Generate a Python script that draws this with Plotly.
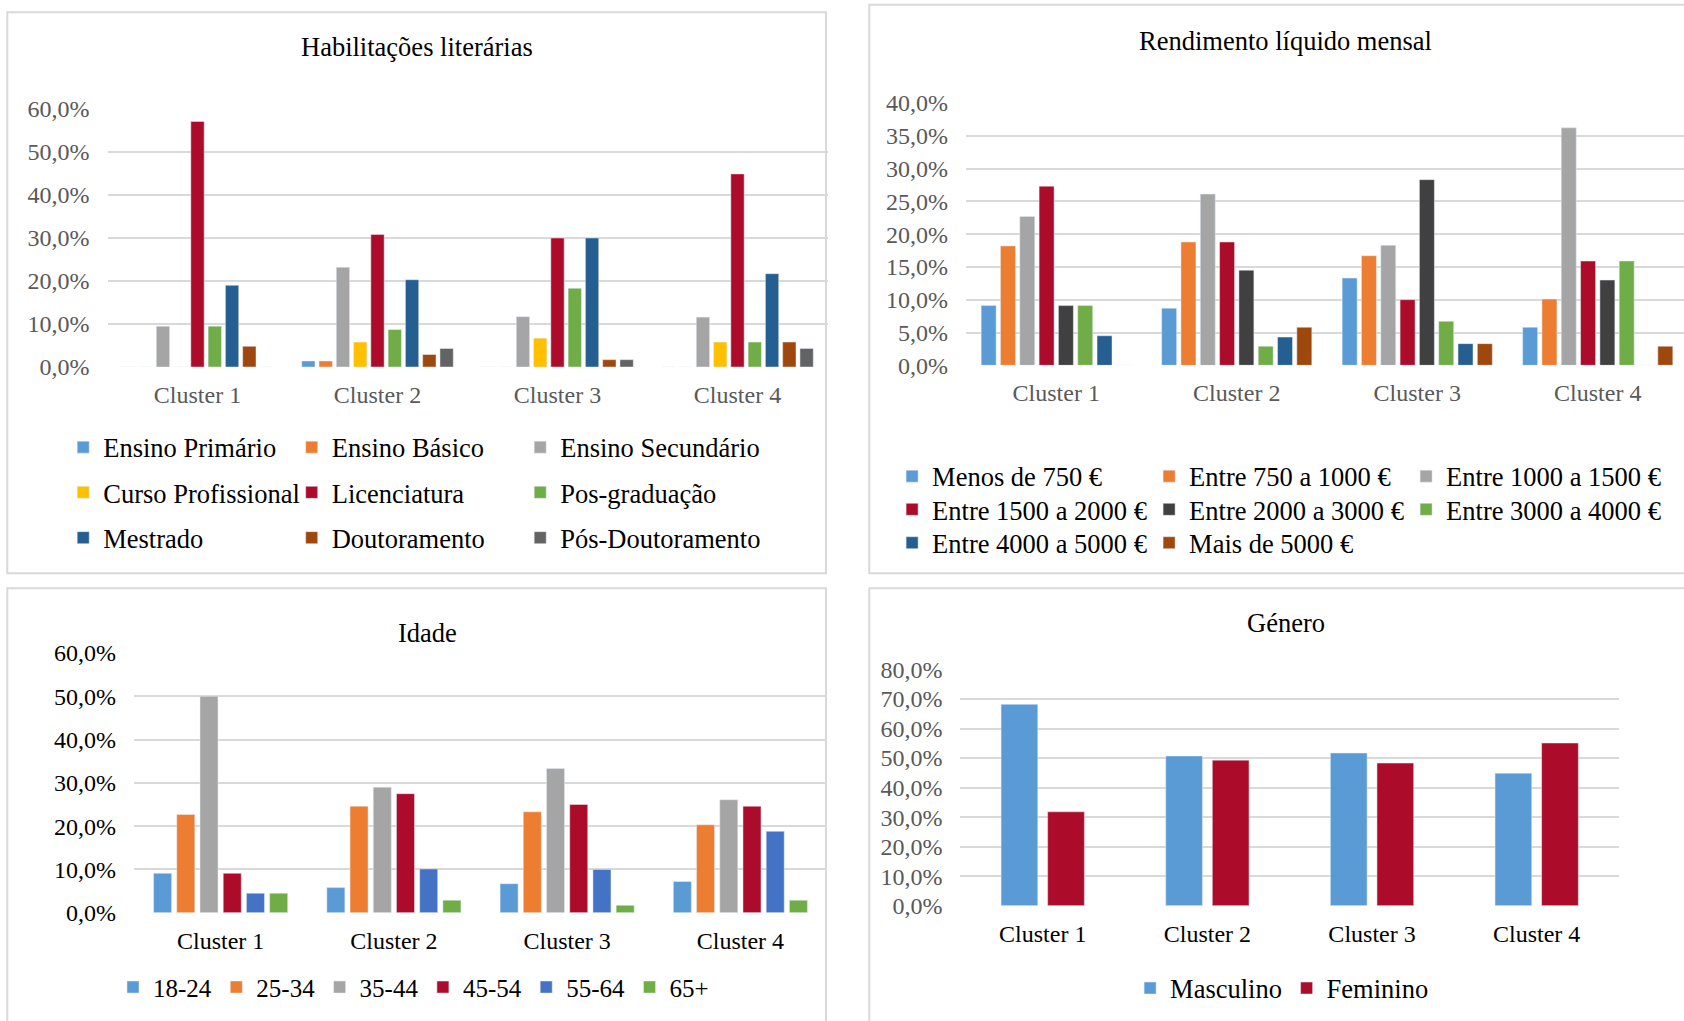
import plotly.graph_objects as go

W, H = 1684, 1021
FONT = "Liberation Serif"
GRID = "#D9D9D9"
TICK_GRAY = "#595959"

clusters = ["Cluster 1", "Cluster 2", "Cluster 3", "Cluster 4"]

# Habilitações literárias (%)
hab_names = ["Ensino Primário", "Ensino Básico", "Ensino Secundário",
             "Curso Profissional", "Licenciatura", "Pos-graduação",
             "Mestrado", "Doutoramento", "Pós-Doutoramento"]
ensino_primario = [0, 1.4, 0, 0]
ensino_basico = [0, 1.4, 0, 0]
ensino_secundario = [9.5, 23.2, 11.7, 11.6]
curso_profissional = [0, 5.8, 6.7, 5.8]
licenciatura = [57.1, 30.8, 30.0, 44.9]
pos_graduacao = [9.5, 8.7, 18.3, 5.8]
mestrado = [19.0, 20.3, 30.0, 21.7]
doutoramento = [4.8, 2.9, 1.7, 5.8]
pos_doutoramento = [0, 4.3, 1.7, 4.3]

# Rendimento líquido mensal (%)
rend_names = ["Menos de 750 €", "Entre 750 a 1000 €", "Entre 1000 a 1500 €",
              "Entre 1500 a 2000 €", "Entre 2000 a 3000 €", "Entre 3000 a 4000 €",
              "Entre 4000 a 5000 €", "Mais de 5000 €"]
menos_750 = [9.1, 8.7, 13.3, 5.8]
entre_750_1000 = [18.2, 18.8, 16.7, 10.1]
entre_1000_1500 = [22.7, 26.1, 18.3, 36.2]
entre_1500_2000 = [27.3, 18.8, 10.0, 15.9]
entre_2000_3000 = [9.1, 14.5, 28.3, 13.0]
entre_3000_4000 = [9.1, 2.9, 6.7, 15.9]
entre_4000_5000 = [4.5, 4.3, 3.3, 0]
mais_5000 = [0, 5.8, 3.3, 2.9]

# Idade (%)
idade_names = ["18-24", "25-34", "35-44", "45-54", "55-64", "65+"]
idade_18_24 = [9.1, 5.8, 6.7, 7.2]
idade_25_34 = [22.7, 24.6, 23.3, 20.3]
idade_35_44 = [50.0, 29.0, 33.3, 26.1]
idade_45_54 = [9.1, 27.5, 25.0, 24.6]
idade_55_64 = [4.5, 10.1, 10.0, 18.8]
idade_65 = [4.5, 2.9, 1.7, 2.9]

# Género (%)
genero_names = ["Masculino", "Feminino"]
masculino = [68.2, 50.7, 51.7, 44.9]
feminino = [31.8, 49.3, 48.3, 55.1]

BLUE, ORANGE, GRAY, GOLD = "#5B9BD5", "#ED7D31", "#A5A5A5", "#FFC000"
RED, GREEN, NAVY, BROWN = "#AD0B2A", "#70AD47", "#255E91", "#9E480E"
DGRAY, CHAR, ROYAL = "#636363", "#404040", "#4472C4"


def px_x(p):
    return p / W


def px_y(p):
    return 1 - p / H


fig = go.Figure()


def add_group(series, names, colors, xa, ya, slot, width, legends):
    n = len(series)
    for i, (vals, name, col) in enumerate(zip(series, names, colors)):
        off = -n * slot / 2 + i * slot + (slot - width) / 2
        fig.add_trace(go.Bar(
            x=clusters, y=vals, name=name, marker_color=col,
            offset=off, width=width, xaxis=xa, yaxis=ya,
            legend=legends[i], legendgroup=name,
            hovertemplate="%{x}: %{y:.1f}%<extra>" + name + "</extra>",
        ))


# education legend is laid out in three columns (one legend per column)
add_group([ensino_primario, ensino_basico, ensino_secundario, curso_profissional,
           licenciatura, pos_graduacao, mestrado, doutoramento, pos_doutoramento],
          hab_names, [BLUE, ORANGE, GRAY, GOLD, RED, GREEN, NAVY, BROWN, DGRAY],
          "x", "y", 0.096, 0.074,
          ["legend", "legend2", "legend3"] * 3)

# income legend is laid out in three rows (one legend per row)
add_group([menos_750, entre_750_1000, entre_1000_1500, entre_1500_2000,
           entre_2000_3000, entre_3000_4000, entre_4000_5000, mais_5000],
          rend_names, [BLUE, ORANGE, GRAY, RED, CHAR, GREEN, NAVY, BROWN],
          "x2", "y2", 0.107, 0.083,
          ["legend4"] * 3 + ["legend5"] * 3 + ["legend6"] * 2)

add_group([idade_18_24, idade_25_34, idade_35_44, idade_45_54, idade_55_64, idade_65],
          idade_names, [BLUE, ORANGE, GRAY, RED, ROYAL, GREEN],
          "x3", "y3", 0.134, 0.104, ["legend7"] * 6)

add_group([masculino, feminino], genero_names, [BLUE, RED],
          "x4", "y4", 0.283, 0.223, ["legend8"] * 2)


def pct_labels(top, step):
    vals = list(range(0, top + 1, step))
    return vals, [f"{v:.1f}%".replace(".", ",") for v in vals]


def xaxis(dom, rng, color, anchor):
    return dict(domain=dom, range=rng, anchor=anchor, type="category",
                showgrid=False, showline=False, zeroline=False, ticks="",
                tickfont=dict(family=FONT, size=24, color=color),
                ticklabelstandoff=11, fixedrange=True)


def yaxis(dom, top, step, color, anchor):
    vals, text = pct_labels(top, step)
    return dict(domain=dom, range=[0, top], anchor=anchor,
                tickvals=vals, ticktext=text,
                showgrid=True, gridcolor=GRID, gridwidth=1.5,
                zeroline=False, showline=False, ticks="",
                tickfont=dict(family=FONT, size=24, color=color),
                ticklabelstandoff=17, fixedrange=True)


frames = [(7.3, 12.3, 826, 573.3), (869.3, 4.7, 1700, 573.3),
          (7.3, 588.3, 826, 1040), (869.3, 588.3, 1700, 1040)]
shapes = [dict(type="rect", xref="paper", yref="paper",
               x0=px_x(a), x1=px_x(c), y0=px_y(d), y1=px_y(b),
               line=dict(color=GRID, width=2), layer="below")
          for a, b, c, d in frames]

titles = [("Habilitações literárias", 417, 47.4), ("Rendimento líquido mensal", 1285.7, 40.7),
          ("Idade", 427, 632.7), ("Género", 1285.6, 623.3)]
annotations = [dict(text=t, x=px_x(x), y=px_y(y), xref="paper", yref="paper",
                    xanchor="center", yanchor="middle", showarrow=False,
                    font=dict(family=FONT, size=26.5, color="#000000"))
               for t, x, y in titles]


def row_legend(text_left, yc, spacing, size=26.5):
    return dict(orientation="h", x=px_x(text_left - 42), y=px_y(yc),
                xanchor="left", yanchor="middle", entrywidth=spacing - 45,
                entrywidthmode="pixels", bgcolor="rgba(0,0,0,0)",
                font=dict(family=FONT, size=size, color="#000000"),
                itemclick=False, itemdoubleclick=False, traceorder="normal")


def col_legend(text_left, yc, gap, size=26.5):
    return dict(orientation="v", x=px_x(text_left - 42), y=px_y(yc),
                xanchor="left", yanchor="middle", tracegroupgap=gap,
                bgcolor="rgba(0,0,0,0)",
                font=dict(family=FONT, size=size, color="#000000"),
                itemclick=False, itemdoubleclick=False, traceorder="grouped")


fig.update_layout(
    width=W, height=H, margin=dict(l=0, r=0, t=0, b=0, autoexpand=False),
    paper_bgcolor="white", plot_bgcolor="white",
    barmode="overlay", showlegend=True,
    font=dict(family=FONT),
    xaxis=xaxis([px_x(107.5), px_x(827.5)], [-0.5, 3.5], TICK_GRAY, "y"),
    yaxis=yaxis([px_y(367), px_y(109)], 60, 10, TICK_GRAY, "x"),
    xaxis2=xaxis([px_x(966), 1.0], [-0.5, 3.478], TICK_GRAY, "y2"),
    yaxis2=yaxis([px_y(365.3), px_y(102.9)], 40, 5, TICK_GRAY, "x2"),
    xaxis3=xaxis([px_x(134), px_x(827)], [-0.5, 3.5], "#000000", "y3"),
    yaxis3=yaxis([px_y(912.7), px_y(653)], 60, 10, "#000000", "x3"),
    xaxis4=xaxis([px_x(960.4), px_x(1619)], [-0.5, 3.5], "#000000", "y4"),
    yaxis4=yaxis([px_y(905.7), px_y(669.5)], 80, 10, TICK_GRAY, "x4"),
    legend=col_legend(105.2, 492.4, 7.8),
    legend2=col_legend(333.7, 492.4, 7.8),
    legend3=col_legend(562.2, 492.4, 7.8),
    legend4=row_legend(934.1, 476.4, 257),
    legend5=row_legend(934.1, 509.6, 257),
    legend6=row_legend(934.1, 543, 257),
    legend7=row_legend(155, 987.3, 103.3, 25),
    legend8=row_legend(1172.1, 988.3, 156.5),
    shapes=shapes, annotations=annotations,
)

fig.write_html("out.html")
